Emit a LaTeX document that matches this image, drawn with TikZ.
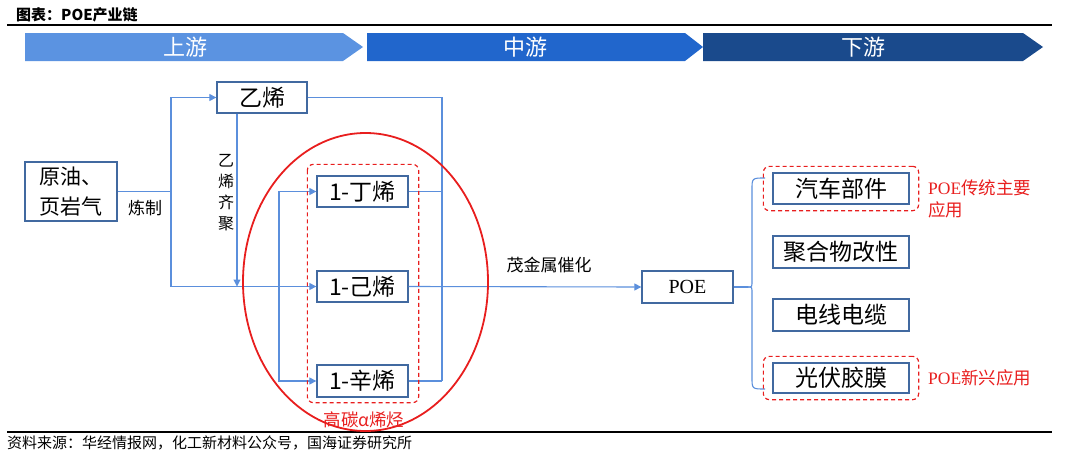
\documentclass[tikz,border=0pt]{standalone}
\usepackage{fontspec}
\setmainfont{Noto Sans CJK SC}
\newfontfamily\cjk{Noto Sans CJK SC}
\newfontfamily\tms{Liberation Serif}
\usetikzlibrary{arrows.meta,shapes.geometric,fit,calc}
\definecolor{upc}{RGB}{91,147,225}
\definecolor{midc}{RGB}{33,102,204}
\definecolor{downc}{RGB}{26,74,140}
\definecolor{boxc}{RGB}{65,105,160}
\definecolor{linec}{RGB}{91,143,220}
\definecolor{redc}{RGB}{232,30,30}
\newcommand{\fs}[2]{\fontsize{#1}{#2}\selectfont}
\tikzset{
  box/.style={draw=boxc, line width=1.3pt, fill=white, inner sep=0pt, font=\cjk\fs{23}{27}},
  conn/.style={draw=linec, line width=1.1pt},
  tip/.style={-{Triangle[length=7pt,width=7pt]}},
  reddash/.style={draw=redc, line width=1.2pt, dash pattern=on 4pt off 3pt, rounded corners=6pt},
  bantext/.style={text=white, font=\cjk\fs{22}{26}},
  lab/.style={font=\cjk\fs{16}{20}, inner sep=0pt},
  redlab/.style={text=redc, font=\cjk\fs{17.5}{22}, inner sep=0pt},
}
\begin{document}
\begin{tikzpicture}[x=1pt,y=-1pt]
\useasboundingbox (0,0) rectangle (1080,458);
% title and rules
\node[anchor=west, inner sep=0pt, font=\cjk\bfseries\fs{15}{18}] (title) at (16,15) {图表：POE产业链};
\draw[line width=2pt] (7,25) -- (1052,25);
\draw[line width=2pt] (7,432) -- (1052,432);
\node[anchor=west, inner sep=0pt, font=\cjk\fs{15}{18}] (src) at (7,443) {资料来源：华经情报网，化工新材料公众号，国海证券研究所};
% banners
\fill[upc] (25,33) -- (343,33) -- (363,47) -- (343,61) -- (25,61) -- cycle;
\fill[midc] (367,33) -- (685,33) -- (703,47) -- (685,61) -- (367,61) -- cycle;
\fill[downc] (703,33) -- (1023,33) -- (1043,47) -- (1023,61) -- (703,61) -- cycle;
\node[bantext] (bup) at (185,47) {上游};
\node[bantext] (bmid) at (525,47) {中游};
\node[bantext] (bdown) at (863,47) {下游};
% boxes
\node[box, minimum width=92pt, minimum height=59pt, align=center, font=\cjk\fs{21}{30}] (crude) at (71,191.5) {原油、\\页岩气};
\node[box, minimum width=90pt, minimum height=31pt] (ethy) at (262,97.5) {乙烯};
\node[box, minimum width=91pt, minimum height=31pt] (but) at (362.5,191.5) {1-丁烯};
\node[box, minimum width=91pt, minimum height=31pt] (hex) at (362.5,286.5) {1-己烯};
\node[box, minimum width=91pt, minimum height=32pt] (oct) at (362.5,381) {1-辛烯};
\node[box, minimum width=91pt, minimum height=32pt, font=\tms\fs{20}{24}] (poe) at (687.5,287) {POE};
\node[box, minimum width=136pt, minimum height=31pt] (car) at (841,188.5) {汽车部件};
\node[box, minimum width=136pt, minimum height=32pt] (poly) at (841,252) {聚合物改性};
\node[box, minimum width=136pt, minimum height=32pt] (wire) at (841,315) {电线电缆};
\node[box, minimum width=136pt, minimum height=30pt] (pv) at (841,378) {光伏胶膜};
% labels
\node[lab, font=\cjk\fs{17}{20}] (refine) at (145,208) {炼制};
\node[lab, align=center, font=\cjk\fs{16}{21}] (olig) at (226,193) {乙\\烯\\齐\\聚};
\node[lab, font=\cjk\fs{17}{20}] (cat) at (549,265) {茂金属催化};
\node[redlab] (hca) at (364,420) {高碳α烯烃};
\node[redlab, anchor=west, align=left, font=\cjk\fs{17.5}{21.5}] (trad) at (928,199) {{\tms POE}传统主要\\应用};
\node[redlab, anchor=west] (new) at (928,378) {{\tms POE}新兴应用};
% connectors
\coordinate (split) at (171,191.5);
\coordinate (lv) at (279,286.5);
\coordinate (rv) at (442,381);
\draw[conn] (crude.east) -- (split);
\draw[conn,tip] (split) |- (ethy.west);
\draw[conn,tip] (split) |- (hex.west);
\draw[conn,tip] ([xshift=-25pt]ethy.south) -- ([xshift=-25pt]ethy.south |- hex.west);
\draw[conn,tip] (lv) |- (but.west);
\draw[conn,tip] (lv) |- (oct.west);
\draw[conn] (ethy.east) -| (rv);
\draw[conn] (but.east) -- (but.east -| rv);
\draw[conn] (oct.east) -- (rv);
\draw[conn,tip] (hex.east) -- (poe.west);
% brace
\coordinate (bmidpt) at (748,287);
\coordinate (btop) at (765,178);
\coordinate (bbot) at (765,389);
\draw[conn] (poe.east) -- (bmidpt);
\draw[conn] (btop) .. controls (752,178) .. (752,190) -- (752,281) .. controls (752,287) .. (bmidpt);
\draw[conn] (bbot) .. controls (752,389) .. (752,377) -- (752,293) .. controls (752,287) .. (bmidpt);
% red groups
\draw[reddash] ($(but.north west)+(-9,-11)$) rectangle ($(oct.south east)+(10,5)$);
\node[reddash, fit=(car), inner xsep=9pt, inner ysep=6pt] (cardash) {};
\node[reddash, fit=(pv), inner xsep=9pt, inner ysep=6pt] (pvdash) {};
\node[draw=redc, line width=1.8pt, ellipse, minimum width=245pt, minimum height=298pt, inner sep=0pt] (grp) at (365.5,282) {};
\end{tikzpicture}
\end{document}
